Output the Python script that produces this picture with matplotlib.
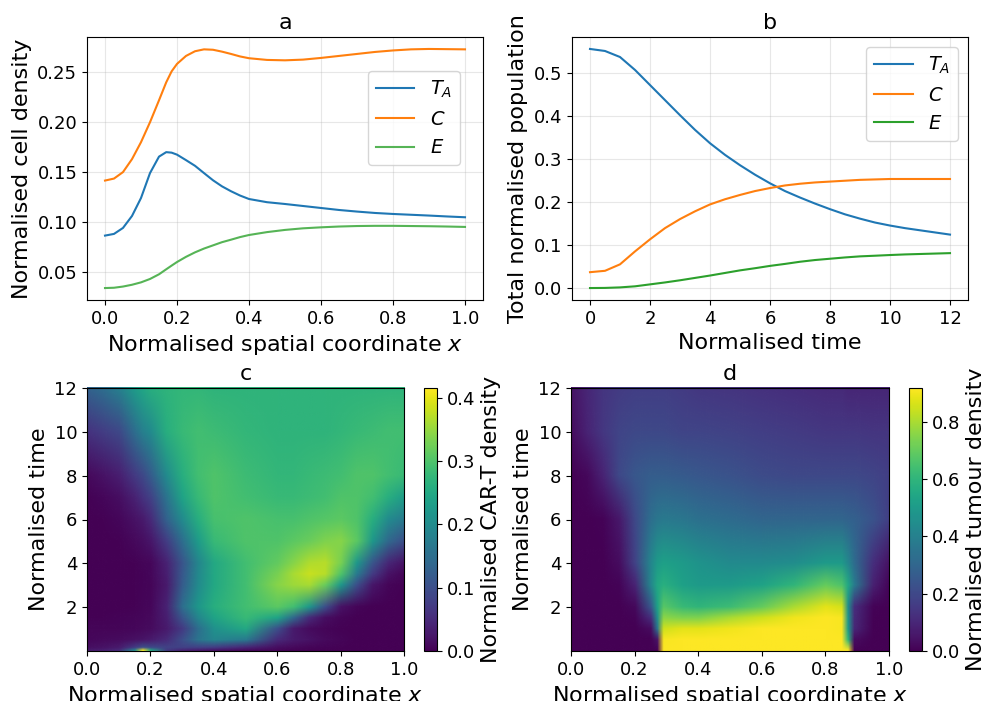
import numpy as np
import matplotlib
matplotlib.use('Agg')
import matplotlib.pyplot as plt
from matplotlib.image import NonUniformImage

plt.rcParams['font.size'] = 13
plt.rcParams['axes.labelsize'] = 16
plt.rcParams['axes.titlesize'] = 16
plt.rcParams['legend.fontsize'] = 14

# spatial profiles (panel a)
x_prof = [0, 0.025, 0.05, 0.075, 0.1, 0.125, 0.15, 0.17, 0.185, 0.2, 0.225, 0.25, 0.275,
          0.3, 0.325, 0.35, 0.375, 0.4, 0.45, 0.5, 0.55, 0.6, 0.65, 0.7, 0.75, 0.8,
          0.85, 0.9, 0.95, 1.0]
ta_prof = [0.0863, 0.088, 0.094, 0.106, 0.124, 0.149, 0.1655, 0.170, 0.1695, 0.1675,
           0.162, 0.1563, 0.149, 0.1418, 0.1357, 0.1308, 0.1265, 0.123, 0.1198, 0.118,
           0.116, 0.114, 0.112, 0.1104, 0.109, 0.108, 0.1072, 0.1064, 0.1055, 0.1047]
c_prof = [0.1415, 0.1435, 0.150, 0.163, 0.180, 0.200, 0.222, 0.240, 0.251, 0.2585,
          0.2665, 0.2712, 0.2731, 0.2727, 0.2708, 0.2685, 0.266, 0.2642, 0.2625, 0.2621,
          0.2628, 0.2645, 0.2665, 0.2685, 0.2705, 0.272, 0.2731, 0.2735, 0.2733, 0.2731]
e_prof = [0.0337, 0.034, 0.0352, 0.037, 0.0394, 0.0428, 0.0475, 0.0525, 0.0562, 0.0598,
          0.065, 0.0695, 0.0733, 0.0765, 0.0797, 0.0822, 0.0848, 0.0869, 0.0898, 0.092,
          0.0936, 0.0946, 0.0954, 0.0959, 0.0961, 0.0961, 0.0959, 0.0957, 0.0954, 0.095]

# total populations over time (panel b)
t_tot = [0, 0.5, 1, 1.5, 2, 2.5, 3, 3.5, 4, 4.5, 5, 5.5, 6, 6.5, 7, 7.5, 8, 8.5, 9,
         9.5, 10, 10.5, 11, 11.5, 12]
ta_tot = [0.5547, 0.550, 0.536, 0.506, 0.471, 0.436, 0.401, 0.367, 0.336, 0.309, 0.285,
          0.263, 0.243, 0.225, 0.210, 0.196, 0.183, 0.171, 0.161, 0.152, 0.145, 0.139,
          0.134, 0.129, 0.124]
c_tot = [0.0368, 0.040, 0.055, 0.085, 0.113, 0.139, 0.160, 0.178, 0.194, 0.206, 0.216,
         0.225, 0.232, 0.238, 0.242, 0.245, 0.247, 0.249, 0.251, 0.252, 0.253, 0.253,
         0.253, 0.253, 0.253]
e_tot = [0.0, 0.0003, 0.0015, 0.004, 0.0085, 0.013, 0.018, 0.0235, 0.029, 0.035, 0.041,
         0.046, 0.0514, 0.056, 0.061, 0.065, 0.068, 0.071, 0.0735, 0.075, 0.0766, 0.078,
         0.079, 0.080, 0.081]

# CAR-T density field (panel c), rows are times, columns are x
x_car = [0, 0.05, 0.1, 0.15, 0.175, 0.2, 0.25, 0.3, 0.35, 0.4, 0.5, 0.6, 0.65, 0.7,
         0.75, 0.8, 0.85, 0.9, 0.95, 1.0]
t_car = [0, 0.15, 0.5, 1, 1.5, 2, 3, 3.5, 4, 5, 6, 7, 8, 10, 12]
car = [
    [0.03, 0.035, 0.05, 0.2, 0.415, 0.25, 0.07, 0.04, 0.03, 0.02, 0.01, 0.005, 0.003, 0.002, 0.001, 0, 0, 0, 0, 0],
    [0.015, 0.02, 0.03, 0.07, 0.1, 0.09, 0.08, 0.08, 0.08, 0.075, 0.045, 0.015, 0.01, 0.006, 0.004, 0.002, 0, 0, 0, 0],
    [0.008, 0.01, 0.012, 0.018, 0.022, 0.03, 0.05, 0.1, 0.16, 0.19, 0.17, 0.05, 0.03, 0.02, 0.01, 0.005, 0, 0, 0, 0],
    [0.005, 0.005, 0.006, 0.008, 0.01, 0.012, 0.03, 0.07, 0.15, 0.21, 0.25, 0.1, 0.03, 0.012, 0.006, 0.003, 0, 0, 0, 0],
    [0.003, 0.003, 0.004, 0.005, 0.007, 0.01, 0.035, 0.11, 0.19, 0.24, 0.28, 0.24, 0.14, 0.05, 0.015, 0.005, 0, 0, 0, 0],
    [0, 0, 0, 0.003, 0.005, 0.008, 0.04, 0.15, 0.22, 0.26, 0.29, 0.31, 0.29, 0.22, 0.1, 0.02, 0.005, 0, 0, 0],
    [0, 0, 0, 0.003, 0.004, 0.006, 0.03, 0.12, 0.2, 0.25, 0.29, 0.34, 0.355, 0.36, 0.32, 0.22, 0.1, 0.025, 0.005, 0],
    [0, 0, 0, 0.003, 0.004, 0.007, 0.035, 0.115, 0.195, 0.25, 0.29, 0.33, 0.36, 0.38, 0.37, 0.3, 0.17, 0.07, 0.02, 0.005],
    [0, 0, 0, 0.003, 0.005, 0.008, 0.04, 0.11, 0.19, 0.25, 0.29, 0.315, 0.34, 0.365, 0.37, 0.33, 0.22, 0.11, 0.045, 0.02],
    [0, 0, 0.003, 0.01, 0.015, 0.025, 0.075, 0.15, 0.23, 0.28, 0.3, 0.3, 0.31, 0.32, 0.335, 0.34, 0.31, 0.22, 0.14, 0.1],
    [0, 0.003, 0.008, 0.02, 0.03, 0.05, 0.13, 0.2, 0.26, 0.295, 0.3, 0.295, 0.295, 0.3, 0.305, 0.31, 0.3, 0.26, 0.2, 0.17],
    [0.003, 0.008, 0.015, 0.04, 0.06, 0.08, 0.16, 0.24, 0.28, 0.3, 0.29, 0.28, 0.28, 0.285, 0.29, 0.3, 0.3, 0.29, 0.26, 0.23],
    [0.01, 0.02, 0.035, 0.07, 0.09, 0.12, 0.2, 0.26, 0.29, 0.3, 0.285, 0.275, 0.275, 0.28, 0.285, 0.29, 0.3, 0.3, 0.29, 0.28],
    [0.06, 0.075, 0.09, 0.15, 0.18, 0.2, 0.26, 0.28, 0.29, 0.285, 0.275, 0.27, 0.27, 0.27, 0.27, 0.275, 0.28, 0.285, 0.29, 0.29],
    [0.13, 0.15, 0.18, 0.23, 0.245, 0.26, 0.27, 0.275, 0.275, 0.27, 0.27, 0.27, 0.27, 0.27, 0.27, 0.27, 0.27, 0.27, 0.27, 0.27],
]

# tumour density field (panel d)
x_tum = [0, 0.05, 0.1, 0.15, 0.2, 0.25, 0.27, 0.29, 0.35, 0.4, 0.5, 0.6, 0.7, 0.8, 0.85,
         0.87, 0.89, 0.95, 1.0]
t_tum = [0, 0.5, 1, 1.5, 2, 3, 4, 6, 8, 10, 12]
tum = [
    [0, 0, 0, 0, 0, 0, 0, 0.918, 0.918, 0.918, 0.918, 0.918, 0.918, 0.918, 0.918, 0.918, 0, 0, 0],
    [0, 0, 0, 0, 0, 0, 0.05, 0.91, 0.918, 0.918, 0.918, 0.918, 0.918, 0.918, 0.918, 0.6, 0.03, 0, 0],
    [0, 0, 0, 0, 0, 0.03, 0.35, 0.85, 0.88, 0.88, 0.9, 0.915, 0.918, 0.918, 0.91, 0.5, 0.1, 0, 0],
    [0, 0, 0, 0, 0.01, 0.12, 0.45, 0.76, 0.74, 0.74, 0.8, 0.85, 0.9, 0.918, 0.91, 0.48, 0.11, 0.005, 0],
    [0, 0, 0, 0, 0.02, 0.25, 0.52, 0.68, 0.62, 0.6, 0.63, 0.7, 0.8, 0.88, 0.86, 0.45, 0.12, 0.01, 0],
    [0, 0, 0, 0.01, 0.09, 0.42, 0.55, 0.58, 0.52, 0.5, 0.5, 0.53, 0.6, 0.7, 0.66, 0.55, 0.38, 0.08, 0.01],
    [0, 0, 0, 0.03, 0.18, 0.42, 0.5, 0.52, 0.5, 0.47, 0.44, 0.44, 0.45, 0.5, 0.5, 0.42, 0.32, 0.12, 0.04],
    [0, 0, 0.01, 0.06, 0.2, 0.33, 0.36, 0.37, 0.36, 0.34, 0.32, 0.3, 0.3, 0.3, 0.3, 0.29, 0.28, 0.23, 0.17],
    [0, 0.02, 0.09, 0.2, 0.25, 0.27, 0.27, 0.27, 0.26, 0.25, 0.23, 0.21, 0.2, 0.2, 0.2, 0.2, 0.2, 0.19, 0.17],
    [0.03, 0.09, 0.15, 0.19, 0.2, 0.2, 0.2, 0.2, 0.19, 0.19, 0.18, 0.17, 0.16, 0.15, 0.15, 0.15, 0.15, 0.14, 0.14],
    [0.05, 0.1, 0.14, 0.16, 0.17, 0.17, 0.17, 0.17, 0.16, 0.15, 0.14, 0.13, 0.12, 0.11, 0.11, 0.1, 0.1, 0.1, 0.1],
]

fig = plt.figure(figsize=(9.81, 7.01), dpi=100)
W, H = 981, 701


def px_axes(left, top, right, bottom):
    return fig.add_axes([left / W, 1 - bottom / H, (right - left) / W, (bottom - top) / H])


def field(ax, x, t, z):
    im = NonUniformImage(ax, interpolation='bilinear', cmap='viridis',
                         extent=(0, 1, 0, 12))
    im.set_data(np.array(x), np.array(t), np.array(z))
    ax.add_image(im)
    ax.set_xlim(0, 1)
    ax.set_ylim(0, 12)
    ax.set_yticks([2, 4, 6, 8, 10, 12])
    ax.set_xlabel('Normalised spatial coordinate $x$')
    ax.set_ylabel('Normalised time')
    return im


# a: spatial profiles
ax = px_axes(87, 37, 483, 300)
ax.plot(x_prof, ta_prof, color='tab:blue', label='$T_A$')
ax.plot(x_prof, c_prof, color='tab:orange', label='$C$')
ax.plot(x_prof, e_prof, color='#56b456', label='$E$')
ax.set_xlabel('Normalised spatial coordinate $x$')
ax.set_ylabel('Normalised cell density')
ax.set_title('a')
ax.grid(alpha=0.3)
ax.legend(loc='upper right', bbox_to_anchor=(0.942, 0.871), borderaxespad=0)

# b: totals
ax = px_axes(572, 37, 968, 300)
ax.plot(t_tot, ta_tot, label='$T_A$')
ax.plot(t_tot, c_tot, label='$C$')
ax.plot(t_tot, e_tot, label='$E$')
ax.set_xlabel('Normalised time')
ax.set_ylabel('Total normalised population')
ax.set_title('b')
ax.grid(alpha=0.3)
ax.legend(loc='upper right')

# c: CAR-T density
ax = px_axes(87, 388, 404, 651)
cax = px_axes(424, 388, 437, 651)
im = field(ax, x_car, t_car, car)
ax.set_title('c')
cb = fig.colorbar(im, cax=cax)
cb.set_label('Normalised CAR-T density')

# d: tumour density
ax = px_axes(571, 388, 889, 651)
cax = px_axes(909, 388, 922, 651)
im = field(ax, x_tum, t_tum, tum)
ax.set_title('d')
cb = fig.colorbar(im, cax=cax)
cb.set_label('Normalised tumour density')

fig.savefig('out.png', dpi=100)
